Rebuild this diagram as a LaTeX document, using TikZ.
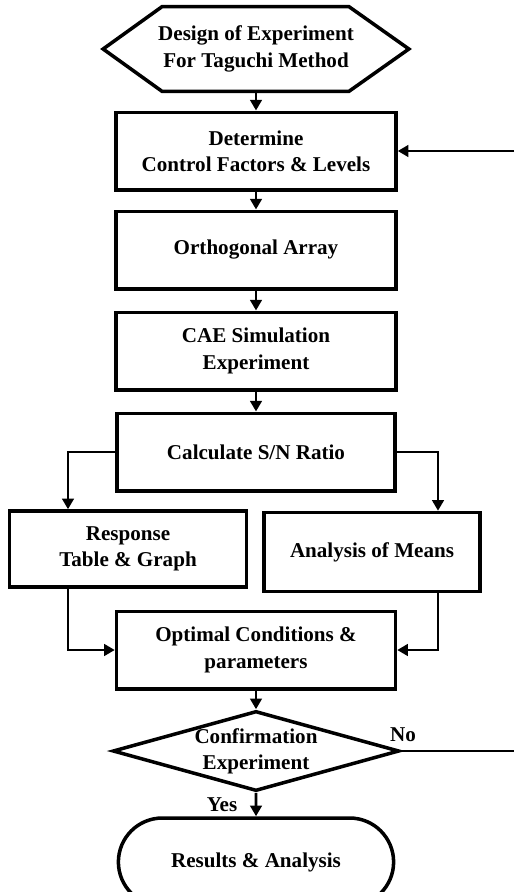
\documentclass[tikz,border=0pt]{standalone}
\usepackage{fontspec}
\setmainfont{Liberation Serif}
\usetikzlibrary{arrows.meta,shapes.geometric,shapes.misc}
\tikzset{
  box/.style={draw,line width=2pt,align=center,minimum width=5.6cm,minimum height=1.55cm},
  decision/.style={draw,diamond,line width=2pt,align=center,aspect=3.58,inner sep=0pt},
  terminal/.style={draw,rounded rectangle,line width=2pt,minimum width=5.74cm,minimum height=1.76cm}
}
\begin{document}
\begin{tikzpicture}[x=0.02cm,y=-0.02cm,line width=1.6pt,
  font=\bfseries\fontsize{12}{15}\selectfont,>={Triangle[length=6pt,width=6.5pt]}]
\useasboundingbox (0,0) rectangle (514,892);
% start
\node[align=center,minimum width=6.06cm,minimum height=1.64cm] (doe) at(256,49) {Design of Experiment\\For Taguchi Method};
\draw[line width=2pt] (doe.west) -- ([shift={(59,0)}]doe.north west) -- ([shift={(-60,0)}]doe.north east)
  -- (doe.east) -- ([shift={(-60,0)}]doe.south east) -- ([shift={(59,0)}]doe.south west) -- cycle;
% main column
\node[box] (det) at(256,151) {Determine\\Control Factors \& Levels};
\node[box] (orth) at(256,250) {Orthogonal Array};
\node[box] (cae) at(256,351) {CAE Simulation\\Experiment};
\node[box,minimum width=5.56cm] (sn) at(256,452) {Calculate S/N Ratio};
\node[box,minimum width=4.74cm,minimum height=1.52cm] (resp) at(128,549) {Response\\Table \& Graph};
\node[box,minimum width=4.32cm,minimum height=1.58cm] (aom) at(372,552) {Analysis of Means};
\node[box,minimum width=5.58cm] (opt) at(256,650) {Optimal Conditions \&\\parameters};
\node[decision] (conf) at(256,751) {Confirmation\\Experiment};
\node[terminal] (res) at(256,862) {Results \& Analysis};
% arrows
\draw[->] (doe.south) -- (det.north);
\draw[->] (det) -- (orth);
\draw[->] (orth) -- (cae);
\draw[->] (cae) -- (sn);
\draw[->] (sn.west) -| ([shift={(-60,0)}]resp.north);
\draw[->] (sn.east) -| ([shift={(66,0)}]aom.north);
\draw[->] ([shift={(-60,0)}]resp.south) |- (opt.west);
\draw[->] ([shift={(66,0)}]aom.south) |- (opt.east);
\draw[->] (opt) -- (conf);
\draw[->] (conf) -- (res);
% feedback
\coordinate (backin) at(514,151);
\coordinate (noout) at(514,751);
\draw (conf.east) -- (noout);
\draw[->] (backin) -- (det.east);
\node (no) at(403,735) {No};
\node (yes) at(222,805) {Yes};
\end{tikzpicture}
\end{document}
